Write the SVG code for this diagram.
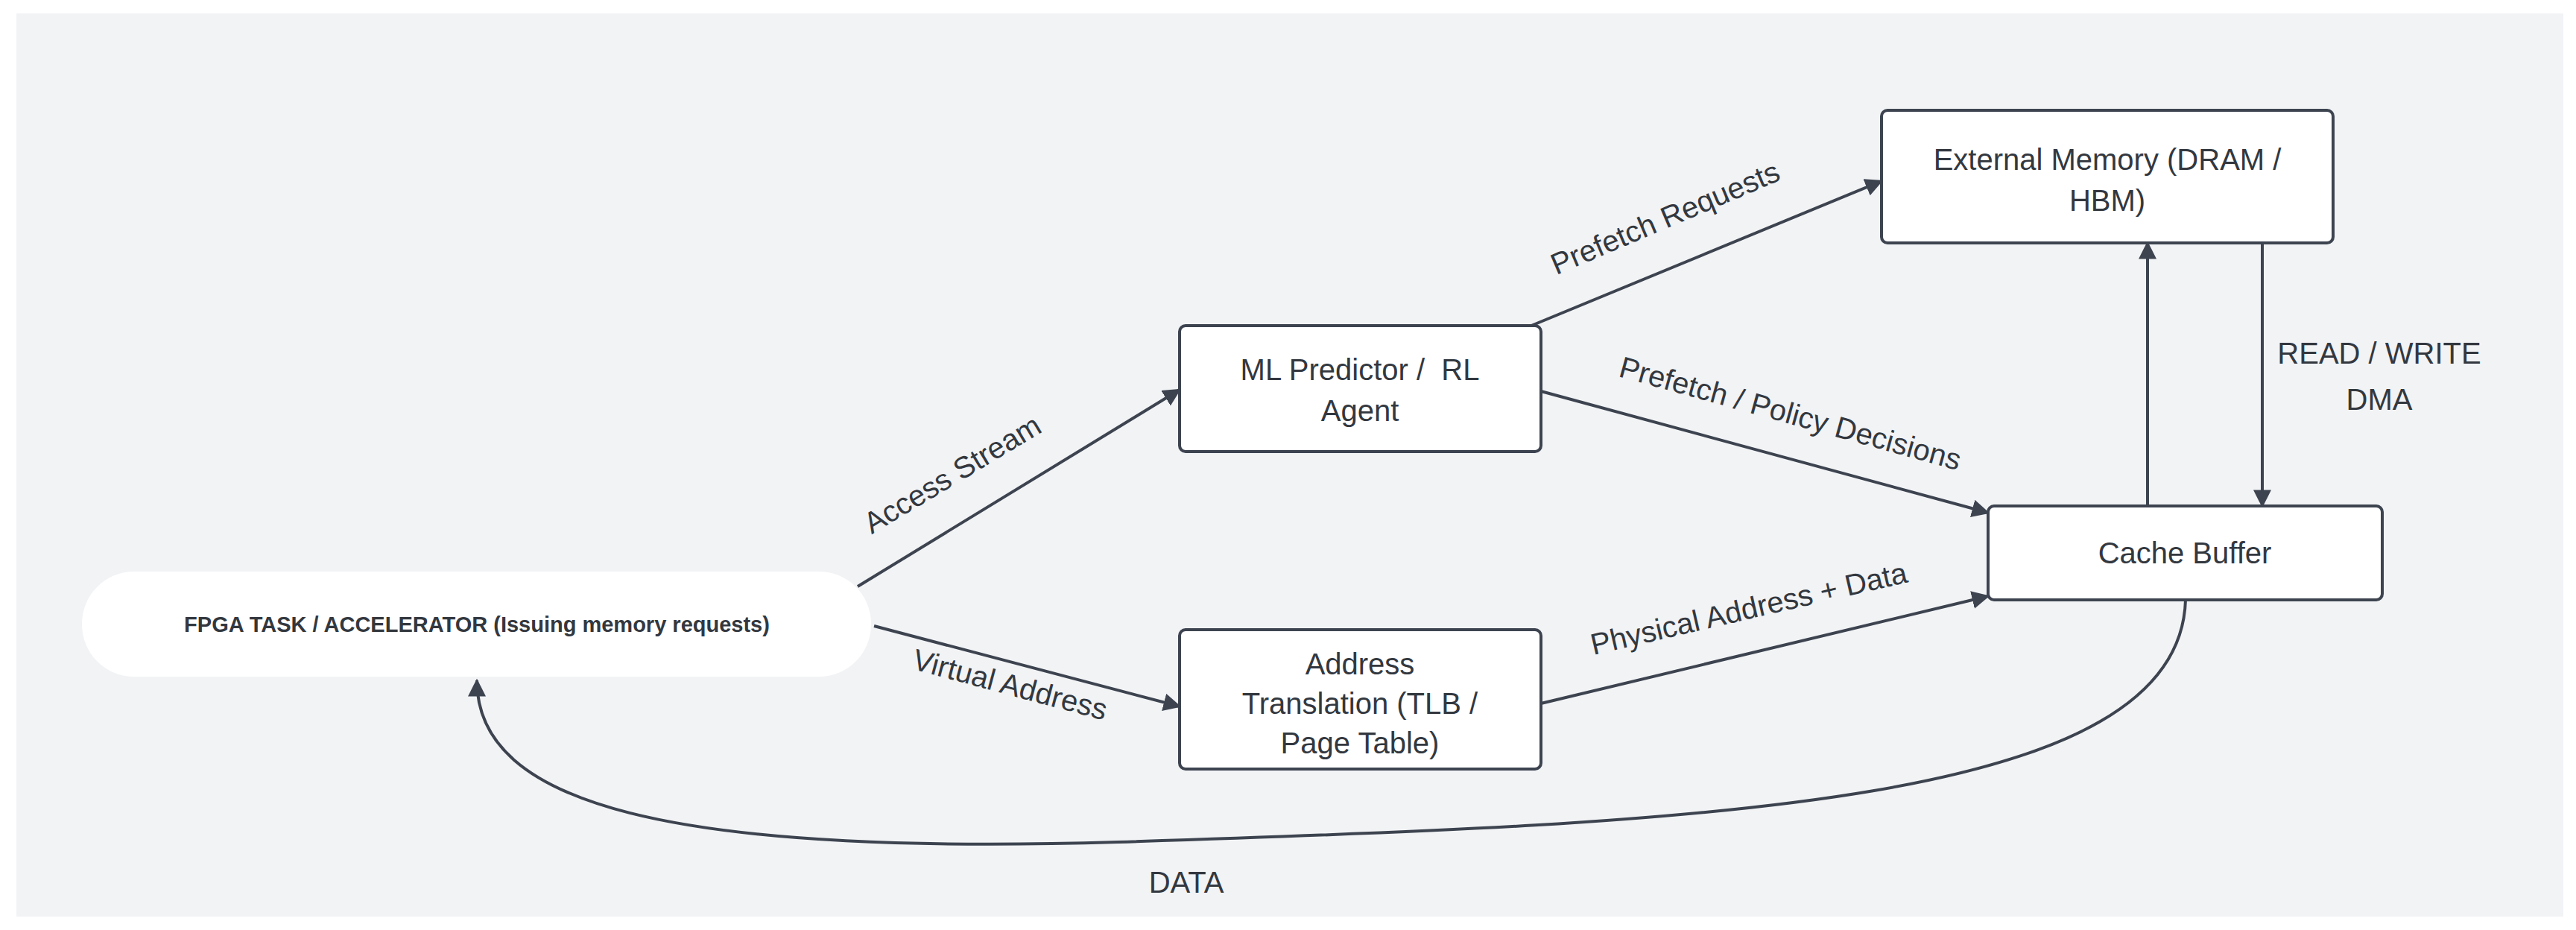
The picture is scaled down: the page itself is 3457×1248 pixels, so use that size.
<svg xmlns="http://www.w3.org/2000/svg" width="3457" height="1248" viewBox="0 0 3457 1248">
<style>
.n{fill:#fff;stroke:#3d4450;stroke-width:4}
.t{font-family:"Liberation Sans",Arial,sans-serif;font-size:40px;fill:#33383f;text-anchor:middle}
.c{fill:none;stroke:#3d4450;stroke-width:4}
</style>
<defs><marker id="a" viewBox="0 0 10 10" refX="9" refY="5" markerWidth="6" markerHeight="6" markerUnits="strokeWidth" orient="auto"><path d="M0,0L10,5L0,10z" fill="#3d4450"/></marker></defs>
<rect width="3457" height="1248" fill="#fff"/>
<rect x="22" y="18" width="3418" height="1212" fill="#f2f3f5"/>
<g id="connectors">
<path class="c" marker-end="url(#a)" d="M1151,787L1583,523"/>
<path class="c" marker-end="url(#a)" d="M1173,840L1583,948"/>
<path class="c" marker-end="url(#a)" d="M2055,437L2525,243"/>
<path class="c" marker-end="url(#a)" d="M2068,525L2668,688"/>
<path class="c" marker-end="url(#a)" d="M2068,944L2668,800"/>
<path class="c" marker-end="url(#a)" d="M2882,679L2882,326"/>
<path class="c" marker-end="url(#a)" d="M3036,326L3036,679"/>
<path class="c" marker-end="url(#a)" d="M2933,805C2925,1080 2300,1105 1500,1130C900,1148 640,1080 640,913"/>
<text class="t" transform="translate(1285,648) rotate(-31)">Access Stream</text>
<text class="t" transform="translate(1352,932) rotate(15)">Virtual Address</text>
<text class="t" transform="translate(2240,305) rotate(-23)">Prefetch Requests</text>
<text class="t" transform="translate(2399,568) rotate(15.5)">Prefetch / Policy Decisions</text>
<text class="t" transform="translate(2350,830) rotate(-13)">Physical Address + Data</text>
<text class="t" x="3193" y="488">READ / WRITE</text>
<text class="t" x="3193" y="550">DMA</text>
<text class="t" x="1592" y="1198">DATA</text>
</g>
<g id="fpga"><rect x="110" y="767" width="1059" height="141" rx="70" fill="#fff"/><text class="t" x="640" y="848" style="font-size:29px;font-weight:bold">FPGA TASK / ACCELERATOR (Issuing memory requests)</text></g>
<g id="ml"><rect class="n" x="1583" y="437" width="485" height="169" rx="8"/><text class="t" x="1825" y="510" xml:space="preserve">ML Predictor /  RL</text><text class="t" x="1825" y="565">Agent</text></g>
<g id="at"><rect class="n" x="1583" y="845" width="485" height="187" rx="8"/><text class="t" x="1825" y="905">Address</text><text class="t" x="1825" y="958">Translation (TLB /</text><text class="t" x="1825" y="1011">Page Table)</text></g>
<g id="ext"><rect class="n" x="2525" y="148" width="606" height="178" rx="8"/><text class="t" x="2828" y="228">External Memory (DRAM /</text><text class="t" x="2828" y="283">HBM)</text></g>
<g id="cache"><rect class="n" x="2668" y="679" width="529" height="126" rx="8"/><text class="t" x="2932" y="756">Cache Buffer</text></g>
</svg>
